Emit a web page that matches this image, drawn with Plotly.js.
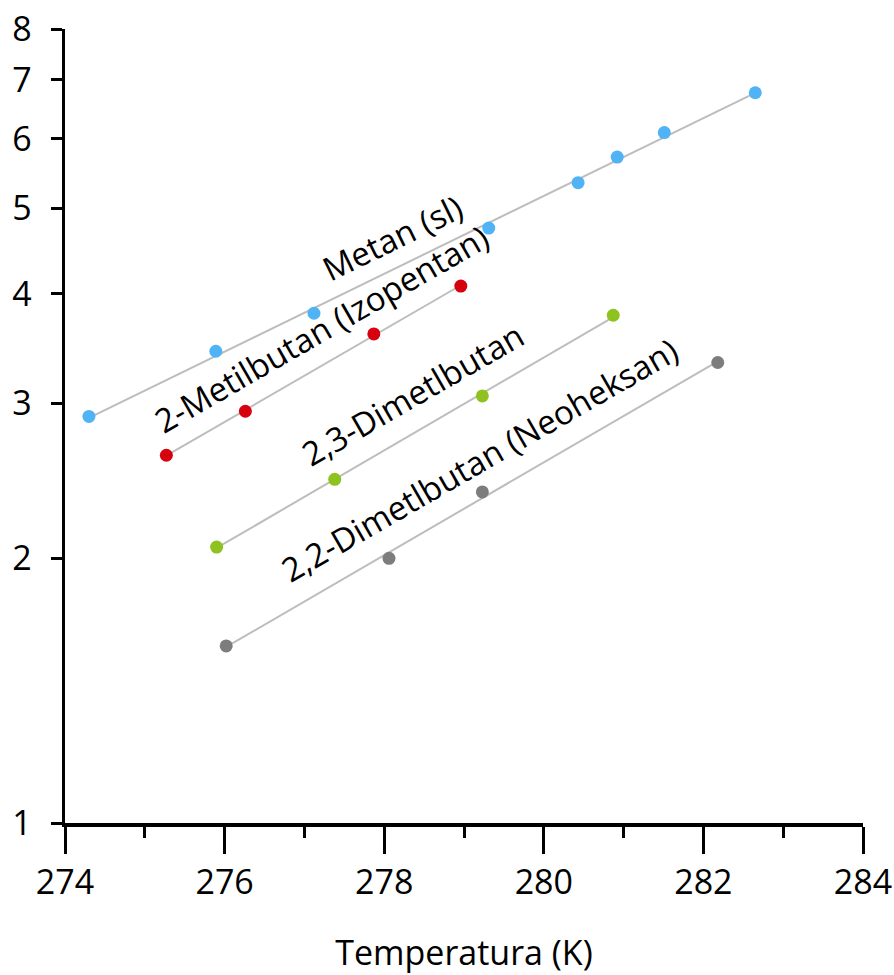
<!DOCTYPE html>
<html>
<head>
<meta charset="utf-8">
<script src="https://cdn.plot.ly/plotly-3.0.1.min.js"></script>
<style>
html, body { margin: 0; padding: 0; background: #ffffff; }
#chart { width: 894px; height: 975px; }
</style>
</head>
<body>
<div id="chart"></div>
<script>
// Data (temperature in K, value on log scale)
const metanX = [274.30, 275.89, 277.12, 279.31, 280.43, 280.92, 281.51, 282.65];
const metanY = [2.90, 3.44, 3.80, 4.75, 5.35, 5.72, 6.10, 6.77];

const izopentanX = [275.27, 276.26, 277.87, 278.96];
const izopentanY = [2.62, 2.94, 3.60, 4.08];

const dimetil23X = [275.90, 277.38, 279.23, 280.87];
const dimetil23Y = [2.06, 2.46, 3.06, 3.78];

const neoheksanX = [276.02, 278.06, 279.23, 282.18];
const neoheksanY = [1.59, 2.00, 2.38, 3.34];

const seriesNames = ["Metan (sl)", "2-Metilbutan (Izopentan)", "2,3-Dimetlbutan", "2,2-Dimetlbutan (Neoheksan)"];
const seriesColors = ["#4fb3f6", "#d7000f", "#8ec31f", "#7d7d7d"];
const labelX = [278.11, 277.22, 278.35, 279.2];
const labelAngle = [-26, -30, -30, -30];
const labelShift = [32, 37, 40, 40];

const yTicks = [1, 2, 3, 4, 5, 6, 7, 8];
const xTitle = "Temperatura (K)";

const allX = [metanX, izopentanX, dimetil23X, neoheksanX];
const allY = [metanY, izopentanY, dimetil23Y, neoheksanY];

// linear fit of log10(y) versus x
function fit(xs, ys) {
  const n = xs.length;
  const ly = ys.map(v => Math.log10(v));
  const mx = xs.reduce((a, b) => a + b, 0) / n;
  const my = ly.reduce((a, b) => a + b, 0) / n;
  let sxy = 0, sxx = 0;
  for (let i = 0; i < n; i++) { sxy += (xs[i] - mx) * (ly[i] - my); sxx += (xs[i] - mx) ** 2; }
  const b = sxy / sxx, a = my - b * mx;
  return x => Math.pow(10, a + b * x);
}

const traces = [];
const annotations = [];
const fnt = "'Open Sans', 'DejaVu Sans', sans-serif";

allX.forEach((xs, i) => {
  const f = fit(xs, allY[i]);
  const x0 = Math.min(...xs), x1 = Math.max(...xs);
  traces.push({
    x: [x0, x1], y: [f(x0), f(x1)], mode: "lines", type: "scatter",
    line: { color: "#bdbdbd", width: 2 }, hoverinfo: "skip", showlegend: false
  });
  annotations.push({
    x: labelX[i], y: Math.log10(f(labelX[i])), xref: "x", yref: "y",
    text: seriesNames[i], showarrow: false, textangle: labelAngle[i],
    yshift: labelShift[i], font: { family: fnt, size: 33, color: "#000000" }
  });
});
allX.forEach((xs, i) => {
  traces.push({
    x: xs, y: allY[i], mode: "markers", type: "scatter", name: seriesNames[i],
    marker: { color: seriesColors[i], size: 13 }, showlegend: false
  });
});

const layout = {
  width: 894, height: 975,
  margin: { l: 65, r: 31, t: 29, b: 152 },
  paper_bgcolor: "#ffffff", plot_bgcolor: "#ffffff",
  showlegend: false,
  font: { family: fnt, size: 34, color: "#000000" },
  xaxis: {
    range: [274, 284], dtick: 2, tick0: 274,
    showgrid: false, zeroline: false,
    showline: true, linecolor: "#000000", linewidth: 3.5,
    ticks: "outside", ticklen: 27, tickwidth: 3, tickcolor: "#000000",
    minor: { dtick: 1, ticks: "outside", ticklen: 11, tickwidth: 3, tickcolor: "#000000", showgrid: false },
    tickfont: { family: fnt, size: 34, color: "#000000" },
    title: { text: xTitle, font: { family: fnt, size: 34, color: "#000000" }, standoff: 44 }
  },
  yaxis: {
    type: "log", range: [0, Math.log10(8)],
    tickvals: yTicks, ticktext: yTicks.map(String),
    showgrid: false, zeroline: false,
    showline: true, linecolor: "#000000", linewidth: 3.5,
    ticks: "outside", ticklen: 11, tickwidth: 3, tickcolor: "#000000",
    ticklabelstandoff: 12,
    tickfont: { family: fnt, size: 34, color: "#000000" }
  },
  annotations: annotations
};

Plotly.newPlot("chart", traces, layout, { displayModeBar: false, staticPlot: true });
</script>
</body>
</html>
